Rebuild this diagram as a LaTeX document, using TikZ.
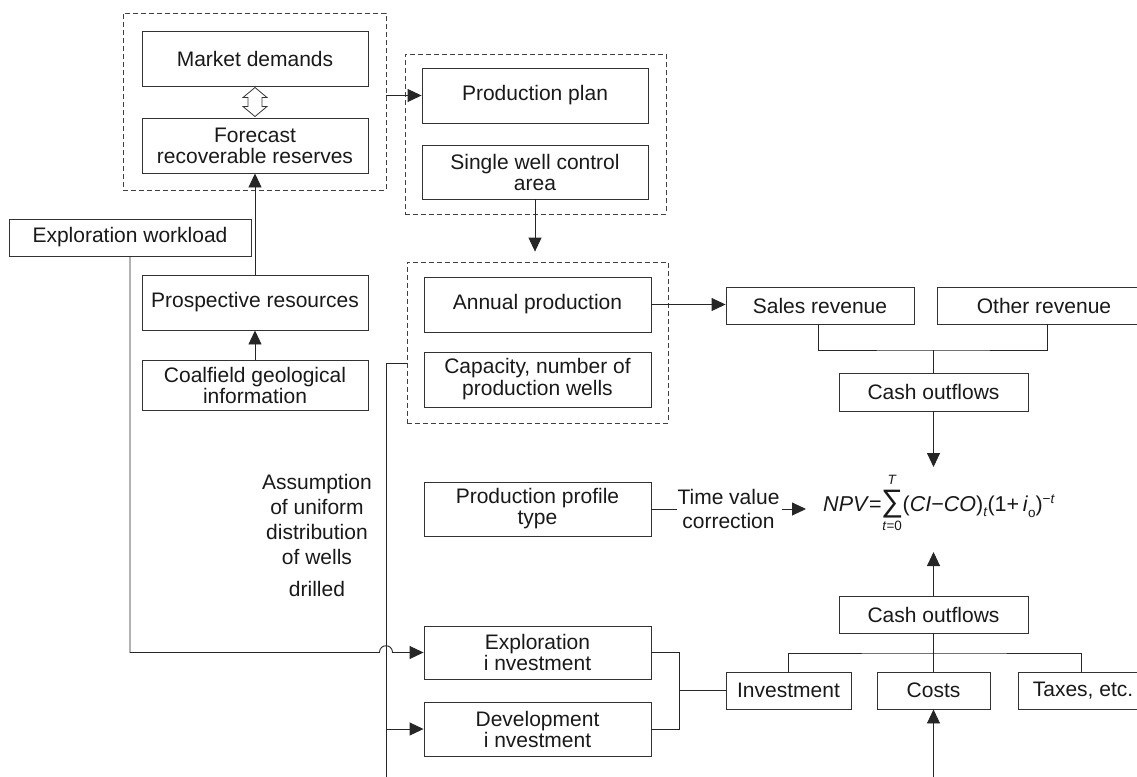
\documentclass[tikz,border=0pt]{standalone}
\usepackage{fontspec}
\setmainfont{Liberation Sans}
\usetikzlibrary{arrows.meta,calc}
\newcommand\smallfs{\fontsize{13.5}{13.5}\selectfont}
\newcommand\sumblk{\makebox[21pt]{\fontsize{31}{31}\selectfont ∑}\llap{\makebox[21pt]{\raisebox{26.5pt}{\smallfs\textit{T}}}}\llap{\makebox[21pt]{\raisebox{-19.5pt}{\smallfs\textit{t}=0}}}}
\tikzset{
  box/.style={draw=black!80, line width=0.9pt, rectangle, inner sep=0pt, align=center,
    font=\fontsize{21}{21}\selectfont, text=black!90},
  sz/.style 2 args={minimum width=#1pt, minimum height=#2pt},
  grp/.style={draw=black!75, line width=0.8pt, dash pattern=on 5pt off 3pt, rectangle, inner sep=0pt},
  conn/.style={draw=black!85, line width=0.9pt},
  arr/.style={conn, -{Triangle[length=14pt,width=13pt]}},
  lbl/.style={inner sep=0pt, align=center, text=black!90},
}
\begin{document}
\begin{tikzpicture}[x=1pt, y=-1pt]
\useasboundingbox (0,0) rectangle (1137,776);
% dashed groups
\node[grp, sz={263}{177}] (g1) at (254.5,101.5) {};
\node[grp, sz={261}{160}] (g2) at (535.5,134) {};
\node[grp, sz={261}{161}] (g3) at (537.5,342.5) {};
% boxes
\node[box, sz={226}{55}] (md) at (255,58.5) {Market demands};
\node[box, sz={226}{55}] (fr) at (255,145.5) {Forecast\\recoverable reserves};
\node[box, sz={226}{55}] (pp) at (535,95.5) {Production plan};
\node[box, sz={226}{54}] (sw) at (535,172) {Single well control\\area};
\node[box, sz={242}{37}] (ew) at (130,237.5) {Exploration workload};
\node[box, sz={226}{55}] (pr) at (255,302.5) {Prospective resources};
\node[box, sz={226}{50}] (cg) at (255,385) {Coalfield geological\\information};
\node[box, sz={227}{55}] (ap) at (537.5,304.5) {Annual production};
\node[box, sz={227}{55}, font=\fontsize{21}{22}\selectfont] (cap) at (537.5,379.5) {Capacity, number of\\production wells};
\node[box, sz={188}{37}] (sr) at (820,305.5) {Sales revenue};
\node[box, sz={214}{37}] (or) at (1044,305.5) {Other revenue};
\node[box, sz={189}{38}] (co1) at (933.5,392) {Cash outflows};
\node[box, sz={227}{54}] (ppt) at (537.5,509) {Production profile\\type};
\node[box, sz={227}{53}] (ei) at (537.5,652.5) {Exploration\\i nvestment};
\node[box, sz={227}{54}] (di) at (537.5,729) {Development\\i nvestment};
\node[box, sz={189}{37}] (co2) at (933.5,614.5) {Cash outflows};
\node[box, sz={125}{37}] (inv) at (788.5,690.5) {Investment};
\node[box, sz={113}{37}] (cst) at (933.5,690.5) {Costs};
\node[box, sz={130}{37}] (tax) at (1083,690.5) {Taxes, etc.};
% labels
\node[lbl, font=\fontsize{21}{24}\selectfont] (tvc) at (728.5,509) {Time value\\correction};
\node[lbl, font=\fontsize{21}{25}\selectfont, anchor=north] (asm) at (317,474.5)
  {Assumption\\of uniform\\distribution\\of wells\\[7pt]drilled};
\node[lbl, font=\fontsize{21.5}{21.5}\selectfont, anchor=base] (npv) at (939,511)
  {\textit{NPV}=\sumblk(\textit{CI}−\textit{CO})\raisebox{-5.5pt}{\smallfs\textit{t}}(1+\,\textit{i}\raisebox{-6pt}{\smallfs o})\raisebox{8pt}{\smallfs −\textit{t}}};
% hollow double arrow
\coordinate (dbl) at ($(md.south)!0.5!(fr.north)$);
\draw[draw=black!80, line width=0.8pt, fill=white] ($(dbl)+(0,-14.5)$) -- ++(12,10) -- ++(-5,0) -- ++(0,9) -- ++(5,0)
  -- ($(dbl)+(0,14.5)$) -- ++(-12,-10) -- ++(5,0) -- ++(0,-9) -- ++(-5,0) -- cycle;
% connectors
\draw[arr] (g1.east |- pp.west) -- (pp.west);
\coordinate (g3top) at ([yshift=10pt]g3.north);
\draw[arr] (sw.south) -- (sw.south |- g3top);
\draw[arr] (pr.north) -- (fr.south);
\draw[arr] (cg.north) -- (pr.south);
\coordinate (hopL) at (379.5,652.5);
\coordinate (hopR) at (392.5,652.5);
\draw[arr] (ew.south) |- (hopL) .. controls +(0,-9) and +(0,-9) .. (hopR) -- (ei.west);
\coordinate (vtop) at ([yshift=-20.5pt]g3.west);
\coordinate (vbot) at (386,780);
\draw[conn] (vtop) -- (vtop -| vbot) -- (vbot);
\draw[arr] (di.west -| vbot) -- (di.west);
\draw[arr] (ap.east) -- (ap.east -| sr.west);
\coordinate (b1) at (933.5,350);
\draw[conn] ([xshift=-2pt]sr.south) |- (b1) -| ([xshift=3pt]or.south);
\draw[conn] (b1) -- (co1.north);
\coordinate (npvT) at (933.5,467);
\coordinate (npvB) at (933.5,552);
\draw[arr] (co1.south) -- (npvT);
\draw[arr] (co2.north) -- (npvB);
\draw[conn] (ppt.east) -- (tvc.west);
\coordinate (tvcA) at (806,509);
\draw[arr] ([xshift=2pt]tvc.east) -- (tvcA);
\coordinate (b2) at (933.5,653);
\draw[conn] (co2.south) -- (cst.north);
\draw[conn] (inv.north) |- (b2) -| ([xshift=-2pt]tax.north);
\coordinate (brk) at (679,690.5);
\draw[conn] (ei.east) -| (brk) |- (di.east);
\draw[conn] (brk) -- (inv.west);
\draw[arr] (cst.south |- vbot) -- (cst.south);
\end{tikzpicture}
\end{document}
